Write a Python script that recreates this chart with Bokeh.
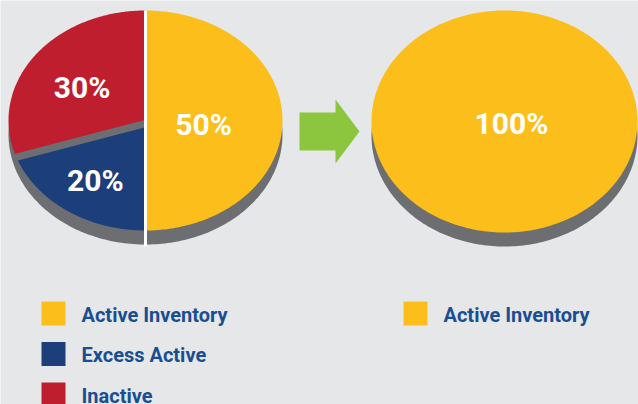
import numpy as np
from bokeh.plotting import figure
from bokeh.models import Range1d
from bokeh.core.properties import value
from bokeh.embed import file_html
from bokeh.resources import INLINE

# ---- data ----
before_labels = ["Active Inventory", "Excess Active", "Inactive"]
before_shares = [50, 20, 30]
before_colors = ["#FCBE1A", "#1C3F7B", "#BE1E2D"]

after_labels = ["Active Inventory"]
after_shares = [100]
after_colors = ["#FCBE1A"]

BG = "#E6E7E9"
SHADOW = "#6D6E71"
TEXT_BLUE = "#1A4E93"
ARROW = "#8CC63F"

p = figure(width=638, height=404, x_range=Range1d(0, 638), y_range=Range1d(404, 0),
           output_backend="svg", toolbar_location=None, min_border=0,
           background_fill_color=BG, border_fill_color=BG, outline_line_color=None)
p.axis.visible = False
p.grid.visible = False


def ellipse_pts(cx, cy, rx, ry, a0, a1, n=200, apex=True):
    t = np.radians(np.linspace(a0, a1, n))
    xs = cx + rx * np.cos(t)
    ys = cy - ry * np.sin(t)
    if apex:
        xs = np.concatenate([[cx], xs])
        ys = np.concatenate([[cy], ys])
    return xs, ys


def centroid(xs, ys):
    x0, y0 = np.asarray(xs), np.asarray(ys)
    x1, y1 = np.roll(x0, -1), np.roll(y0, -1)
    cr = x0 * y1 - x1 * y0
    a = cr.sum() / 2
    return (x0 + x1).dot(cr) / (6 * a), (y0 + y1).dot(cr) / (6 * a)


def pie3d(cx, cy, rx, ry, depth, shares, colors):
    sx, sy = ellipse_pts(cx, cy + depth, rx, ry, 0, 360, 300, apex=False)
    p.patch(sx, sy, fill_color=SHADOW, line_color=None)
    total = float(sum(shares))
    ang = 90.0
    xs_list, ys_list, lab, bounds = [], [], [], []
    for s in shares:
        sweep = 360.0 * s / total
        a0, a1 = ang, ang - sweep
        if s == total:
            xs, ys = ellipse_pts(cx, cy, rx, ry, 0, 360, 300, apex=False)
            lab.append((cx, cy))
        else:
            xs, ys = ellipse_pts(cx, cy, rx, ry, a0, a1)
            lab.append(centroid(xs, ys))
        xs_list.append(list(xs))
        ys_list.append(list(ys))
        bounds.append(a1)
        ang = a1
    p.patches(xs_list, ys_list, fill_color=colors, line_color=None)
    return lab, bounds


LABEL_FONT = dict(text_color="white", text_font=value("Roboto"), text_font_style="bold",
                  text_font_size="30px", text_align="center", text_baseline="middle")

# ---- left pie ----
Lcx, Lcy, Lrx, Lry, Ld = 145, 120, 137, 110, 14
lab_l, bnd_l = pie3d(Lcx, Lcy, Lrx, Lry, Ld, before_shares, before_colors)
b = np.radians(bnd_l[1])
p.line([Lcx, Lcx + Lrx * np.cos(b)], [Lcy + 3, Lcy - Lry * np.sin(b) + 3],
       line_color=SHADOW, line_width=7)
p.line([Lcx, Lcx], [Lcy - Lry, Lcy + Lry + Ld + 2], line_color="white", line_width=3)

p.text(x=[c[0] for c in lab_l], y=[c[1] + 4 for c in lab_l],
       text=[f"{s}%" for s in before_shares], **LABEL_FONT)

# ---- arrow ----
ax0, ay = 299, 131
p.patch([ax0, ax0 + 36, ax0 + 36, ax0 + 60, ax0 + 36, ax0 + 36, ax0],
        [ay - 19, ay - 19, ay - 32, ay, ay + 32, ay + 19, ay + 19],
        fill_color=ARROW, line_color=None)

# ---- right pie ----
Rcx, Rcy, Rrx, Rry, Rd = 504, 121, 133, 111, 14
lab_r, _ = pie3d(Rcx, Rcy, Rrx, Rry, Rd, after_shares, after_colors)
p.text(x=[lab_r[0][0] + 7], y=[lab_r[0][1] + 2], text=[f"{after_shares[0]}%"], **LABEL_FONT)

# ---- legends ----
def legend(x0, y0, labels, colors):
    ys = [y0 + i * 40.5 for i in range(len(labels))]
    p.rect(x=[x0 + 12] * len(labels), y=ys, width=24, height=24,
           fill_color=colors, line_color=None)
    p.text(x=[x0 + 40] * len(labels), y=[y + 1 for y in ys], text=labels,
           text_color=TEXT_BLUE, text_font=value("Roboto"), text_font_style="bold",
           text_font_size="20px", text_align="left", text_baseline="middle")

legend(41, 313, before_labels, before_colors)
legend(403, 313, after_labels, after_colors)

open("out.html", "w").write(file_html(p, INLINE))
